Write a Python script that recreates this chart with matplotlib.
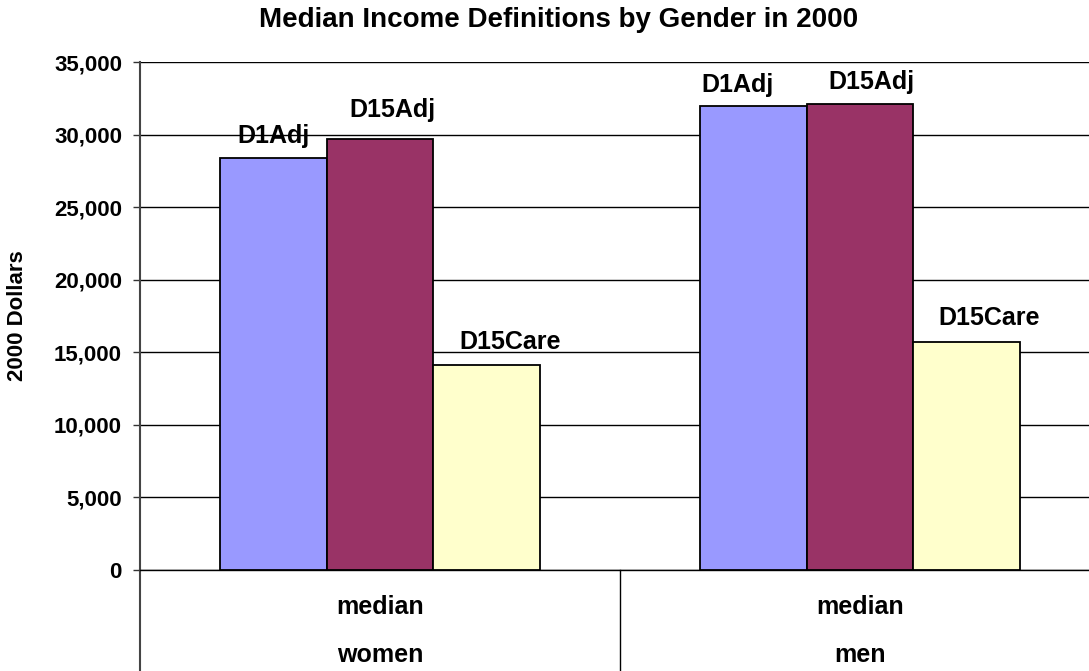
import matplotlib.pyplot as plt
from matplotlib.ticker import FuncFormatter

plt.rcParams['font.family'] = ['Liberation Sans', 'DejaVu Sans']
plt.rcParams['font.weight'] = 'bold'

# median income in 2000 dollars, by definition and gender
genders = ['women', 'men']
series = ['D1Adj', 'D15Adj', 'D15Care']
d1adj = [28400, 32000]
d15adj = [29700, 32100]
d15care = [14100, 15700]
colors = ['#9999FF', '#993366', '#FFFFCC']

# hand-placed label nudges (pixels) so the tags don't collide
label_nudge = {
    ('women', 'D1Adj'): (0, 15),
    ('women', 'D15Adj'): (12, 22),
    ('women', 'D15Care'): (23, 16),
    ('men', 'D1Adj'): (-16, 14),
    ('men', 'D15Adj'): (11, 15),
    ('men', 'D15Care'): (22, 17),
}

W, H = 1089, 671
fig = plt.figure(figsize=(W / 100, H / 100), dpi=100)
ax = fig.add_axes([140 / W, 101 / H, 960 / W, 508 / H])

width = 0.2225
x = range(len(genders))
for i, (name, vals) in enumerate(zip(series, [d1adj, d15adj, d15care])):
    xs = [xi + (i - 1) * width for xi in x]
    ax.bar(xs, vals, width, color=colors[i], edgecolor='black', linewidth=1.3, zorder=3)
    for g, xv, v in zip(genders, xs, vals):
        dx, dy = label_nudge[(g, name)]
        ax.annotate(name, (xv, v), xytext=(dx, dy), textcoords='offset pixels',
                    ha='center', va='baseline', fontsize=18, fontweight='bold')

ax.set_xlim(-0.5, 1.5)
ax.set_ylim(0, 35000)
ax.set_yticks(range(0, 35001, 5000))
ax.yaxis.set_major_formatter(FuncFormatter(lambda v, p: f'{int(v):,}'))
ax.tick_params(axis='y', labelsize=16, length=5, width=1, pad=8, color='#333333')
ax.set_xticks([])
ax.grid(axis='y', color='black', linewidth=1, zorder=0)

for s in ['top', 'right']:
    ax.spines[s].set_visible(False)
ax.spines['left'].set_color('#444444')
ax.spines['left'].set_linewidth(1.5)
ax.spines['bottom'].set_color('black')
ax.spines['bottom'].set_linewidth(1)

# two-level category labels with separators underneath the axis
xt = ax.get_xaxis_transform()
for b in [-0.5, 0.5, 1.5]:
    ax.plot([b, b], [0, -0.2], transform=xt, color='#444444' if b < 0 else 'black',
            linewidth=1.5 if b < 0 else 1, clip_on=False)
for xi, g in zip(x, genders):
    ax.annotate('median', (xi, 0), xytext=(0, -37), textcoords='offset pixels',
                ha='center', va='center', fontsize=18, fontweight='bold')
    ax.annotate(g, (xi, 0), xytext=(0, -85), textcoords='offset pixels',
                ha='center', va='center', fontsize=18, fontweight='bold')

fig.text(559 / W, 1 - 20 / H, 'Median Income Definitions by Gender in 2000',
         ha='center', va='center', fontsize=20, fontweight='bold')
fig.text(18 / W, 1 - 316 / H, '2000 Dollars', rotation=90,
         ha='center', va='center', fontsize=16, fontweight='bold')

fig.savefig('out.png', dpi=100)
